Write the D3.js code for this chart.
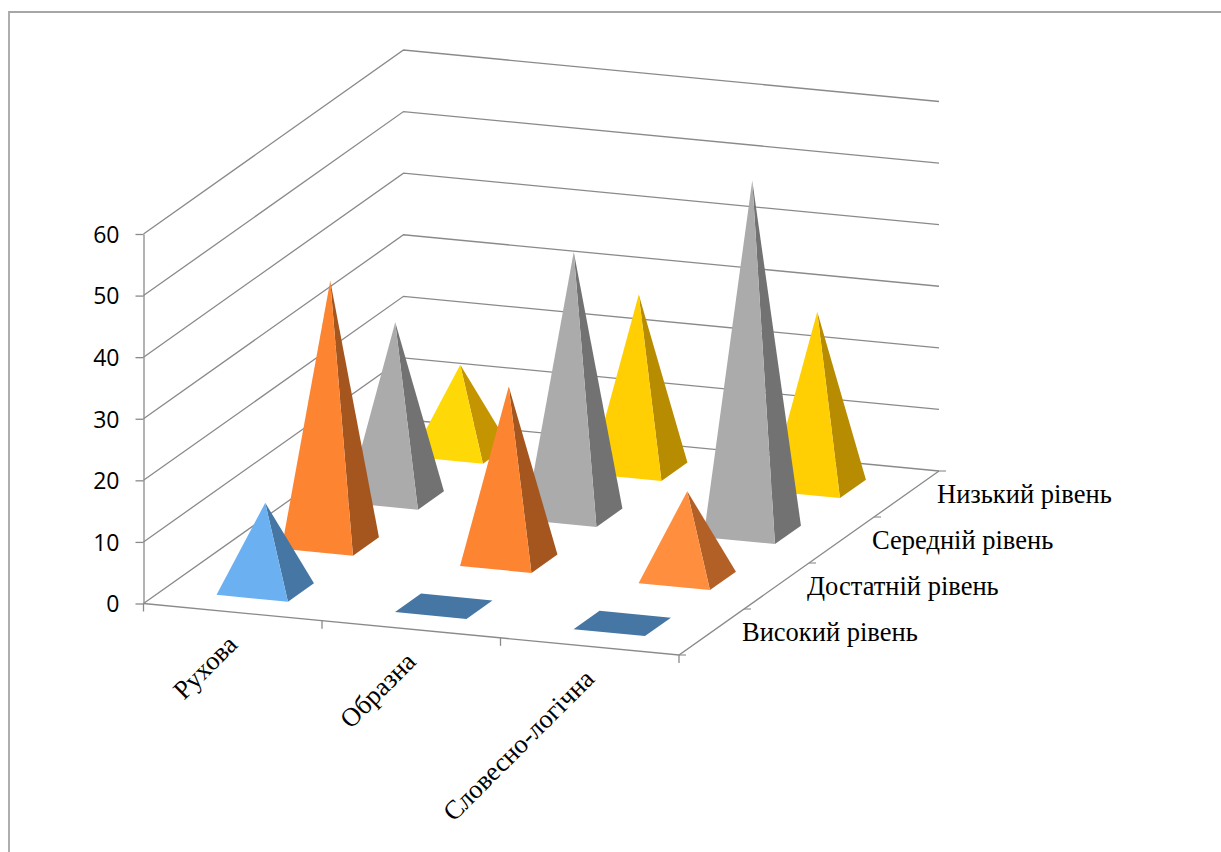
<!DOCTYPE html>
<html>
<head>
<meta charset="utf-8">
<style>
  html, body { margin: 0; padding: 0; background: #fff; }
  svg { display: block; }
</style>
<script src="https://cdn.jsdelivr.net/npm/d3@7/dist/d3.min.js"></script>
</head>
<body>
<svg id="chart" width="1221" height="852"></svg>
<script>
// Thinking types (along the front edge) and achievement levels (front to back)
const categories = ["Рухова", "Образна", "Словесно-логічна"];
const levels = ["Високий рівень", "Достатній рівень", "Середній рівень", "Низький рівень"];
const highLevel = [14, 0, 0];
const sufficientLevel = [42.6, 28.2, 14];
const mediumLevel = [28.4, 42.6, 57];
const lowLevel = [14, 28.2, 28.2];
const yTicks = [0, 10, 20, 30, 40, 50, 60];

// Face colours per level: [front, side] for short and for tall pyramids
const shortFaces = [["#6bb0f1", "#4676a3"], ["#ff8f3f", "#b36027"], ["#b0b0b0", "#767676"], ["#ffd907", "#c49500"]];
const tallFaces = [["#6bb0f1", "#4676a3"], ["#fd8431", "#a5561e"], ["#ababab", "#727272"], ["#ffcf03", "#b88c00"]];
const flatFace = "#4676a3";

const series = [highLevel, sufficientLevel, mediumLevel, lowLevel];
const AXIS = "#8a8a8a";

const svg = d3.select("#chart");

// Outer frame of the chart area
svg.append("path")
  .attr("d", "M9,852V12H1221")
  .attr("fill", "none").attr("stroke", "#a6a6a6").attr("stroke-width", 1.8);

// Oblique projection: the floor is a parallelogram, height is purely vertical
const origin = { x: 143.5, y: 603.5 };
const catVec = { x: 535.5, y: 51.5 };
const levelVec = { x: 260, y: -184 };

const yScale = d3.scaleLinear().domain([0, 60]).range([0, -369.5]);
const catBand = d3.scaleBand().domain(categories).range([0, 1]).paddingInner(0.6).paddingOuter(0.3);
const levelBand = d3.scaleBand().domain(levels).range([0, 1]).paddingInner(0.6).paddingOuter(0.3);

function project(u, v, value) {
  return [
    origin.x + u * catVec.x + v * levelVec.x,
    origin.y + u * catVec.y + v * levelVec.y + yScale(value)
  ];
}

const line = d3.line();
const grid = svg.append("g");

// Back walls: one bent line per value tick, plus the floor outline
yTicks.forEach(t => {
  grid.append("path")
    .attr("d", line([project(0, 0, t), project(0, 1, t), project(1, 1, t)]))
    .attr("fill", "none").attr("stroke", AXIS).attr("stroke-width", 1.3);
});
grid.append("path")
  .attr("d", line([project(0, 0, 0), project(1, 0, 0), project(1, 1, 0)]))
  .attr("fill", "none").attr("stroke", AXIS).attr("stroke-width", 1.3);

// Value axis on the front-left corner
const yAxisScale = d3.scaleLinear().domain([0, 60]).range([origin.y, origin.y + yScale(60)]);
const yAxis = svg.append("g")
  .attr("transform", `translate(${origin.x},0)`)
  .call(d3.axisLeft(yAxisScale).tickValues(yTicks).tickSize(8).tickSizeOuter(0).tickPadding(16));
yAxis.selectAll("path,line").attr("stroke", AXIS).attr("stroke-width", 1.3);
yAxis.selectAll("text")
  .attr("font-family", "'Open Sans', sans-serif").attr("font-size", 23).attr("fill", "#000")
  .attr("dy", "0.36em");

// Tick marks between categories, hanging below the front edge
const catTicks = d3.range(categories.length + 1).map(i => i / categories.length);
svg.append("g").selectAll("line").data(catTicks).join("line")
  .attr("x1", d => project(d, 0, 0)[0]).attr("y1", d => project(d, 0, 0)[1])
  .attr("x2", d => project(d, 0, 0)[0]).attr("y2", d => project(d, 0, 0)[1] + 8)
  .attr("stroke", AXIS).attr("stroke-width", 1.3);

// Tick marks between levels, pointing right from the side edge
const levelTicks = d3.range(levels.length + 1).map(i => i / levels.length);
svg.append("g").selectAll("line").data(levelTicks).join("line")
  .attr("x1", d => project(1, d, 0)[0]).attr("y1", d => project(1, d, 0)[1])
  .attr("x2", d => project(1, d, 0)[0] + 7).attr("y2", d => project(1, d, 0)[1])
  .attr("stroke", AXIS).attr("stroke-width", 1.1);

// Pyramids, painted from the back row forward and left to right
const marks = [];
d3.range(levels.length).reverse().forEach(j => {
  categories.forEach((c, i) => marks.push({ cat: c, level: levels[j], j, value: series[j][i] }));
});

const pyramids = svg.append("g").selectAll("g").data(marks).join("g");
pyramids.each(function (d) {
  const g = d3.select(this);
  const u0 = catBand(d.cat), u1 = u0 + catBand.bandwidth();
  const v0 = levelBand(d.level), v1 = v0 + levelBand.bandwidth();
  const fl = project(u0, v0, 0), fr = project(u1, v0, 0);
  const br = project(u1, v1, 0), bl = project(u0, v1, 0);
  if (d.value === 0) {
    g.append("path").attr("d", line([fl, fr, br, bl]) + "Z").attr("fill", flatFace);
    return;
  }
  const apex = project((u0 + u1) / 2, (v0 + v1) / 2, d.value);
  const faces = d.value < 20 ? shortFaces[d.j] : tallFaces[d.j];
  g.append("path").attr("d", line([fr, br, apex]) + "Z").attr("fill", faces[1]);
  g.append("path").attr("d", line([fl, fr, apex]) + "Z").attr("fill", faces[0]);
});

const serif = "'Liberation Serif', 'Times New Roman', serif";

// Category labels, slanted along the front edge
svg.append("g").selectAll("text").data(categories).join("text")
  .attr("transform", d => {
    const p = project(catBand(d) + catBand.bandwidth() / 2, 0, 0);
    return `translate(${p[0] + 6},${p[1] + 34}) rotate(-45)`;
  })
  .attr("text-anchor", "end")
  .attr("font-family", serif).attr("font-size", 26.5).attr("fill", "#000")
  .text(d => d);

// Level labels, stepped along the side edge
svg.append("g").selectAll("text").data(levels).join("text")
  .attr("x", d => project(1, levelBand(d) + levelBand.bandwidth() / 2, 0)[0] + 30.5)
  .attr("y", d => project(1, levelBand(d) + levelBand.bandwidth() / 2, 0)[1] + 9)
  .attr("font-family", serif).attr("font-size", 26.5).attr("fill", "#000")
  .text(d => d);
</script>
</body>
</html>
